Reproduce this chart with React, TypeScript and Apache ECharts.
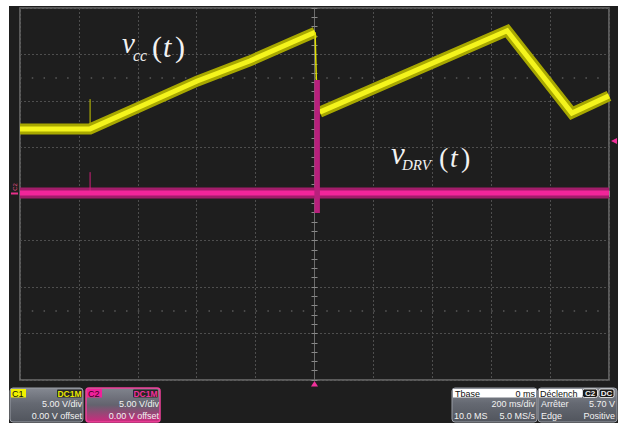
import React, { useEffect, useRef } from 'react';
import * as echarts from 'echarts';

// Traces in screen divisions (x: -5..5, y: -4..4)
const c1RampA: [number, number][] = [[-5, 1.4], [-3.81, 1.4], [-3.08, 1.81], [-1.99, 2.43], [-1.1, 2.86], [-0.37, 3.27], [0.01, 3.48]];
const c1Drop: [number, number][] = [[0.01, 3.48], [0.03, 2.5], [0.06, 1.9]];
const c1RampB: [number, number][] = [[0.09, 1.76], [3.27, 3.51], [4.37, 1.74], [5, 2.11]];
const c1Glitch: [number, number][] = [[-3.81, 1.4], [-3.81, 2.04]];
const c2Base: [number, number][] = [[-5, 0.02], [5, 0.02]];
const c2Spike: [number, number][] = [[0.045, 2.45], [0.045, -0.41]];
const c2Glitch: [number, number][] = [[-3.81, 0.02], [-3.81, 0.47]];
const dottedRows: number[] = [2.5, -2.5];
const triggerLevel = 1.14; // 5.70 V at 5.00 V/div

const FONT = 'Liberation Sans, Arial, sans-serif';
const SERIF = 'Liberation Serif, Times New Roman, serif';

function txt(x: number, y: number, text: string, o: any = {}) {
  const align = o.align || 'left';
  return {
    type: 'text',
    x,
    y,
    z: 100,
    silent: true,
    rotation: o.rotation || 0,
    style: {
      text,
      fill: o.fill || '#f2f2f2',
      fontSize: o.size || 9,
      fontFamily: o.family || FONT,
      fontWeight: o.weight || 'normal',
      fontStyle: o.style || 'normal',
      align,
      textAlign: align,
      verticalAlign: 'middle',
      textVerticalAlign: 'middle',
    },
  };
}

function rect(x: number, y: number, w: number, h: number, fill: any, o: any = {}) {
  return {
    type: 'rect',
    z: 90,
    silent: true,
    shape: { x, y, width: w, height: h, r: o.r || 0 },
    style: { fill, stroke: o.stroke || null, lineWidth: o.lw || 0 },
  };
}

const grayGrad = () =>
  new echarts.graphic.LinearGradient(0, 0, 0, 1, [
    { offset: 0, color: '#858992' },
    { offset: 0.45, color: '#656972' },
    { offset: 1, color: '#51555d' },
  ]);

const pinkGrad = () =>
  new echarts.graphic.LinearGradient(0, 0, 0, 1, [
    { offset: 0, color: '#80848d' },
    { offset: 0.5, color: '#63636e' },
    { offset: 1, color: '#d0287f' },
  ]);

function lineSeries(data: [number, number][], color: string, width: number, z = 2) {
  return {
    type: 'line',
    data,
    symbol: 'none',
    silent: true,
    z,
    lineStyle: { color, width, join: 'miter' },
  };
}

const axisCommon = (pos: string, withSplit: boolean) => ({
  type: 'value',
  position: pos,
  axisLine: { show: true, onZero: true, lineStyle: { color: '#6c6c6c', width: 1 } },
  axisTick: { show: true, inside: true, length: 3, lineStyle: { color: '#8a8a8a' } },
  minorTick: { show: true, splitNumber: 5, length: 3, lineStyle: { color: '#8a8a8a' } },
  axisLabel: { show: false },
  splitLine: { show: withSplit, lineStyle: { color: '#4e4e4e', type: [2, 2], width: 1 } },
});

export default function App() {
  const ref = useRef<HTMLDivElement>(null);
  useEffect(() => {
    if (!ref.current) return;
    const chart = echarts.init(ref.current, undefined, { renderer: 'svg' });
    const graphic: any[] = [
      // white page edges
      rect(0, 0, 618, 6, '#ffffff', {}),
      rect(0, 0, 9, 426, '#ffffff', {}),
      rect(0, 423, 618, 3, '#ffffff', {}),
      // labels
      txt(122, 43, 'v', { size: 29, family: SERIF, style: 'italic' }),
      txt(133, 55, 'cc', { size: 16, family: SERIF, style: 'italic' }),
      txt(152, 46, '(', { size: 30, family: SERIF }),
      txt(163, 46, 't', { size: 30, family: SERIF, style: 'italic' }),
      txt(175, 46, ')', { size: 30, family: SERIF }),
      txt(391, 153, 'v', { size: 31, family: SERIF, style: 'italic' }),
      txt(402, 165, 'DRV', { size: 15, family: SERIF, style: 'italic' }),
      txt(439, 157, '(', { size: 28, family: SERIF }),
      txt(450, 157, 't', { size: 28, family: SERIF, style: 'italic' }),
      txt(461, 157, ')', { size: 28, family: SERIF }),
      // C2 ground marker
      txt(15, 187, 'C2', { size: 6, fill: '#e8508a', rotation: Math.PI / 2, align: 'center' }),
      { type: 'line', z: 100, silent: true, shape: { x1: 11, y1: 193.5, x2: 18, y2: 193.5 }, style: { stroke: '#e8308a', lineWidth: 2 } },
      // trigger position marker
      { type: 'polygon', z: 100, silent: true, shape: { points: [[314.5, 381], [311, 386.5], [318, 386.5]] }, style: { fill: '#f0309a' } },
      // C1 box
      rect(10, 388, 73, 34, grayGrad(), { r: 3, stroke: '#9a9ea6', lw: 1 }),
      rect(11, 389, 15, 8.5, '#f2f200'),
      txt(12, 393.5, 'C1', { fill: '#101010', size: 9 }),
      rect(57, 389.5, 25, 8, '#262626', { r: 1 }),
      txt(69.5, 393.7, 'DC1M', { fill: '#e6e600', size: 8.5, align: 'center', weight: 'bold' }),
      txt(82, 404, '5.00 V/div', { align: 'right' }),
      txt(82, 416, '0.00 V offset', { align: 'right' }),
      // C2 box
      rect(86, 388, 74, 34, pinkGrad(), { r: 3, stroke: '#f0409a', lw: 1.5 }),
      rect(87, 389, 15, 8.5, '#f0209a'),
      txt(88, 393.5, 'C2', { fill: '#3a0020', size: 9 }),
      rect(133, 389.5, 25, 8, '#262626', { r: 1 }),
      txt(145.5, 393.7, 'DC1M', { fill: '#f0309a', size: 8.5, align: 'center', weight: 'bold' }),
      txt(159, 404, '5.00 V/div', { align: 'right' }),
      txt(159, 416, '0.00 V offset', { align: 'right' }),
      // Timebase box
      rect(452, 388, 85, 34, grayGrad(), { r: 3, stroke: '#9a9ea6', lw: 1 }),
      rect(453, 389, 83, 8.5, '#ffffff'),
      txt(455, 393.5, 'Tbase', { fill: '#101010' }),
      txt(535, 393.5, '0 ms', { fill: '#101010', align: 'right' }),
      txt(535, 404, '200 ms/div', { align: 'right' }),
      txt(454, 416, '10.0 MS'),
      txt(535, 416, '5.0 MS/s', { align: 'right' }),
      // Trigger box
      rect(538, 388, 79, 34, grayGrad(), { r: 3, stroke: '#9a9ea6', lw: 1 }),
      rect(539, 389, 43, 8.5, '#ffffff'),
      txt(540, 393.5, 'Déclench', { fill: '#101010' }),
      rect(582.5, 389, 15, 8.5, '#1a1a1a', { r: 2, stroke: '#ffffff', lw: 0.8 }),
      txt(590, 393.6, 'C2', { align: 'center', size: 8, weight: 'bold' }),
      rect(599, 389, 15, 8.5, '#1a1a1a', { r: 2, stroke: '#ffffff', lw: 0.8 }),
      txt(606.5, 393.6, 'DC', { align: 'center', size: 8, weight: 'bold' }),
      txt(541, 404, 'Arrêter'),
      txt(615, 404, '5.70 V', { align: 'right' }),
      txt(541, 416, 'Edge'),
      txt(615, 416, 'Positive', { align: 'right' }),
    ];

    chart.setOption({
      animation: false,
      backgroundColor: '#1e1e1e',
      grid: {
        show: true,
        left: 20,
        top: 8,
        width: 589,
        height: 372,
        borderColor: '#707070',
        borderWidth: 1.5,
        backgroundColor: 'transparent',
      },
      xAxis: [
        { ...axisCommon('bottom', true), min: -5, max: 5, interval: 1 },
        { ...axisCommon('top', false), min: -5, max: 5, interval: 1 },
      ],
      yAxis: [
        { ...axisCommon('left', true), min: -4, max: 4, interval: 1 },
        { ...axisCommon('right', false), min: -4, max: 4, interval: 1 },
      ],
      series: [
        {
          ...lineSeries(c1Glitch, '#c8c800', 1, 1),
          markLine: {
            silent: true,
            z: 1,
            symbol: 'none',
            label: { show: false },
            lineStyle: { color: '#5a5a5a', type: [1.5, 10.28], width: 1.5 },
            data: dottedRows.map((v) => ({ yAxis: v })),
          },
        },
        {
          ...lineSeries(c2Base, '#a21d6a', 11, 3),
          markPoint: {
            silent: true,
            symbol: 'triangle',
            symbolSize: [6, 6],
            symbolRotate: 90,
            symbolOffset: [5, 0],
            itemStyle: { color: '#f0309a' },
            label: { show: false },
            data: [{ coord: [5, triggerLevel] }],
          },
        },
        lineSeries(c2Glitch, '#d0207a', 1, 3),
        lineSeries(c1RampA, '#a8a800', 11, 2),
        lineSeries(c1RampA, '#f4f41c', 5, 2),
        lineSeries(c1RampB, '#a8a800', 11, 2),
        lineSeries(c1RampB, '#f4f41c', 5, 2),
        lineSeries(c1Drop, '#e0e000', 1.5, 2),
        lineSeries(c2Base, '#f2259a', 5, 3),
        lineSeries(c2Spike, '#b8207c', 5.5, 4),
      ],
      graphic,
    });
    return () => chart.dispose();
  }, []);
  return <div ref={ref} style={{ position: 'fixed', left: 0, top: 0, width: 618, height: 426 }} />;
}
